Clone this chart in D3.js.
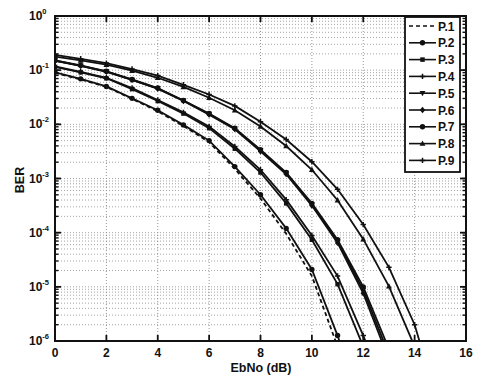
<!DOCTYPE html>
<html><head><meta charset="utf-8">
<script src="https://cdn.jsdelivr.net/npm/d3@7"></script>
<style>
body{margin:0;background:#fff;}
text{font-family:"Liberation Sans",Arial,sans-serif;font-weight:bold;fill:#111;}
</style></head>
<body><svg id="c" width="478" height="379"></svg>
<script>
// EbNo values (dB)
const ebno = [0,1,2,3,4,5,6,7,8,9,10,11,12,13,14,15];
const seriesNames = ["P.1","P.2","P.3","P.4","P.5","P.6","P.7","P.8","P.9"];
const markerTypes = ["none","circle","square","cross","triangleDown","diamond","circle","triangle","cross"];
// BER values
const p1 = [0.0891,0.0676,0.049,0.0295,0.0174,0.00933,0.00468,0.00151,4.27e-4,9.55e-5,1.58e-5,7.9e-7];
const p2 = [0.0912,0.0692,0.0501,0.0302,0.0182,0.00977,0.00501,0.00166,5.01e-4,1.2e-4,2.09e-5,1.26e-6,5.0e-8];
const p3 = [0.115,0.0912,0.0708,0.0447,0.0269,0.0158,0.00851,0.00355,0.00129,3.47e-4,7.41e-5,1.12e-5,7.9e-7];
const p4 = [0.117,0.0933,0.0724,0.0468,0.0282,0.0166,0.00912,0.00389,0.00145,4.07e-4,8.9e-5,1.58e-5,1.26e-6,7.9e-8];
const p5 = [0.151,0.120,0.0955,0.0661,0.0457,0.0275,0.0155,0.00832,0.00331,0.00126,3.31e-4,6.92e-5,8.7e-6,5.6e-7];
const p6 = [0.148,0.120,0.0933,0.0661,0.0457,0.0269,0.0151,0.00813,0.00316,0.0012,3.16e-4,6.46e-5,7.6e-6,4.5e-7];
const p7 = [0.151,0.123,0.0955,0.0676,0.0468,0.0275,0.0158,0.00851,0.00339,0.00129,3.47e-4,7.41e-5,1.0e-5,7.1e-7];
const p8 = [0.178,0.151,0.126,0.0977,0.0724,0.049,0.0309,0.0182,0.00912,0.00398,0.00145,3.98e-4,7.59e-5,1.02e-5,7.9e-7];
const p9 = [0.191,0.162,0.135,0.105,0.0794,0.0537,0.0355,0.0219,0.0112,0.00525,0.00204,6.31e-4,1.41e-4,2.29e-5,2.0e-6,5.0e-8];
const xTicks = [0,2,4,6,8,10,12,14,16];
const yExps = [0,-1,-2,-3,-4,-5,-6];

const allSeries = [p1,p2,p3,p4,p5,p6,p7,p8,p9];
const svg = d3.select("#c");
const L=55, R=466, T=16, B=341;
const x = d3.scaleLinear().domain([0,16]).range([L,R]);
const y = d3.scaleLog().domain([1e-6,1]).range([B,T]);

// grid
const grid = svg.append("g").attr("stroke","#8a8a8a").attr("stroke-width",0.9).attr("stroke-dasharray","1,2");
xTicks.slice(1,-1).forEach(t=>grid.append("line").attr("x1",x(t)).attr("x2",x(t)).attr("y1",T).attr("y2",B));
const minorVals=[];
yExps.forEach(e=>{ if(e<0){ for(let m=1;m<10;m++){ minorVals.push(m*Math.pow(10,e)); } } });
minorVals.forEach(v=>{ if(v>1e-6 && v<1) grid.append("line").attr("x1",L).attr("x2",R).attr("y1",y(v)).attr("y2",y(v)).attr("opacity", 0.85); });

// clip
svg.append("clipPath").attr("id","clip").append("rect").attr("x",L).attr("y",T).attr("width",R-L).attr("height",B-T);
const plot = svg.append("g").attr("clip-path","url(#clip)");
const line = d3.line().x((d,i)=>x(ebno[i])).y(d=>y(d));

function marker(g, type, cx, cy, s){
  if(type==="circle") g.append("circle").attr("cx",cx).attr("cy",cy).attr("r",s*0.6).attr("fill","#111");
  else if(type==="square") g.append("rect").attr("x",cx-s*0.5).attr("y",cy-s*0.5).attr("width",s).attr("height",s).attr("fill","#111");
  else if(type==="diamond") g.append("path").attr("d",`M${cx},${cy-s*0.7}L${cx+s*0.6},${cy}L${cx},${cy+s*0.7}L${cx-s*0.6},${cy}Z`).attr("fill","#111");
  else if(type==="triangle") g.append("path").attr("d",`M${cx},${cy-s*0.7}L${cx+s*0.65},${cy+s*0.5}L${cx-s*0.65},${cy+s*0.5}Z`).attr("fill","#111");
  else if(type==="triangleDown") g.append("path").attr("d",`M${cx},${cy+s*0.7}L${cx+s*0.65},${cy-s*0.5}L${cx-s*0.65},${cy-s*0.5}Z`).attr("fill","#111");
  else if(type==="cross") g.append("path").attr("d",`M${cx-s*0.6},${cy}H${cx+s*0.6}M${cx},${cy-s*0.6}V${cy+s*0.6}`).attr("stroke","#111").attr("stroke-width",1.5);
}

allSeries.forEach((s,k)=>{
  plot.append("path").datum(s).attr("d",line).attr("fill","none").attr("stroke","#111")
    .attr("stroke-width",1.8).attr("stroke-dasharray", k===0?"4,3":null);
  if(markerTypes[k]!=="none"){
    s.forEach((v,i)=>{ if(v>=1e-6) marker(plot, markerTypes[k], x(ebno[i]), y(v), 4.5); });
  }
});

// frame and ticks
const ax = svg.append("g").attr("stroke","#111");
ax.append("rect").attr("x",L).attr("y",T).attr("width",R-L).attr("height",B-T).attr("fill","none").attr("stroke-width",2);
xTicks.forEach(t=>{
  ax.append("line").attr("x1",x(t)).attr("x2",x(t)).attr("y1",B).attr("y2",B-6).attr("stroke-width",1.8);
  ax.append("line").attr("x1",x(t)).attr("x2",x(t)).attr("y1",T).attr("y2",T+6).attr("stroke-width",1.8);
});
yExps.forEach(e=>{
  const v=Math.pow(10,e);
  ax.append("line").attr("x1",L).attr("x2",L+6).attr("y1",y(v)).attr("y2",y(v)).attr("stroke-width",1.8);
  ax.append("line").attr("x1",R).attr("x2",R-6).attr("y1",y(v)).attr("y2",y(v)).attr("stroke-width",1.8);
});
minorVals.forEach(v=>{ if(v>1e-6 && v<1){
  ax.append("line").attr("x1",L).attr("x2",L+3.5).attr("y1",y(v)).attr("y2",y(v)).attr("stroke-width",1.4);
  ax.append("line").attr("x1",R).attr("x2",R-3.5).attr("y1",y(v)).attr("y2",y(v)).attr("stroke-width",1.4);
}});

// tick labels
svg.append("g").selectAll("text").data(xTicks).join("text")
  .attr("x",d=>x(d)).attr("y",357).attr("text-anchor","middle").attr("font-size",12).text(d=>d);
const yl = svg.append("g").selectAll("text").data(yExps).join("text")
  .attr("x",29).attr("y",d=>y(Math.pow(10,d))+4).attr("font-size",12);
yl.append("tspan").text("10");
yl.append("tspan").attr("dy",-6).attr("font-size",7.5).text(d=>d);

svg.append("text").attr("x",261).attr("y",372).attr("text-anchor","middle").attr("font-size",12.5).text("EbNo (dB)");
svg.append("text").attr("transform","translate(24,180) rotate(-90)").attr("text-anchor","middle").attr("font-size",12.5).text("BER");

// legend
const lg = svg.append("g");
const lx=405, ly=17, lw=55, lh=155;
lg.append("rect").attr("x",lx).attr("y",ly).attr("width",lw).attr("height",lh).attr("fill","#fff").attr("stroke","#111").attr("stroke-width",1.8);
seriesNames.forEach((n,k)=>{
  const yy = ly+9+k*16.8;
  lg.append("line").attr("x1",lx+4).attr("x2",lx+31).attr("y1",yy).attr("y2",yy).attr("stroke","#111").attr("stroke-width",1.6)
    .attr("stroke-dasharray",k===0?"4,3":null);
  if(markerTypes[k]!=="none") marker(lg, markerTypes[k], lx+17.5, yy, 4.5);
  lg.append("text").attr("x",lx+33).attr("y",yy+4.5).attr("font-size",12).text(n);
});
</script></body></html>
